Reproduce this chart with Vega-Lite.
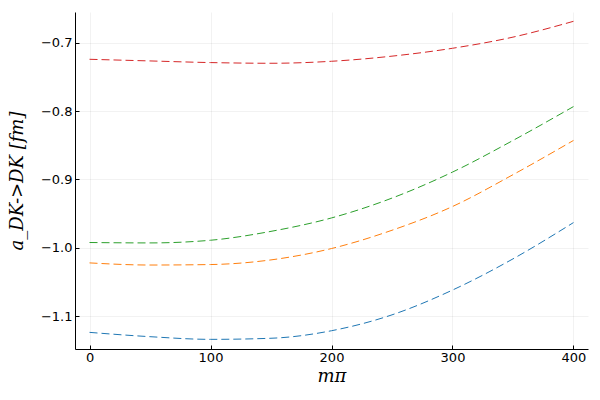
{
  "$schema": "https://vega.github.io/schema/vega-lite/v6.json",
  "autosize": "none",
  "width": 513,
  "height": 337,
  "padding": {"left": 75, "top": 12, "right": 12, "bottom": 51},
  "background": "white",
  "config": {"view": {"stroke": null}},
  "data": {"values": [
    {"m": 0, "a": -0.7244, "s": "4"},
    {"m": 50, "a": -0.7268, "s": "4"},
    {"m": 100, "a": -0.7292, "s": "4"},
    {"m": 150, "a": -0.7302, "s": "4"},
    {"m": 200, "a": -0.7273, "s": "4"},
    {"m": 250, "a": -0.7198, "s": "4"},
    {"m": 300, "a": -0.7083, "s": "4"},
    {"m": 350, "a": -0.6920, "s": "4"},
    {"m": 400, "a": -0.6689, "s": "4"},
    {"m": 0, "a": -0.9921, "s": "3"},
    {"m": 50, "a": -0.9927, "s": "3"},
    {"m": 100, "a": -0.9888, "s": "3"},
    {"m": 150, "a": -0.9758, "s": "3"},
    {"m": 200, "a": -0.9562, "s": "3"},
    {"m": 250, "a": -0.9272, "s": "3"},
    {"m": 300, "a": -0.8892, "s": "3"},
    {"m": 350, "a": -0.8430, "s": "3"},
    {"m": 400, "a": -0.7935, "s": "3"},
    {"m": 0, "a": -1.0219, "s": "2"},
    {"m": 50, "a": -1.0250, "s": "2"},
    {"m": 100, "a": -1.0243, "s": "2"},
    {"m": 150, "a": -1.0175, "s": "2"},
    {"m": 200, "a": -1.0009, "s": "2"},
    {"m": 250, "a": -0.9742, "s": "2"},
    {"m": 300, "a": -0.9395, "s": "2"},
    {"m": 350, "a": -0.8930, "s": "2"},
    {"m": 400, "a": -0.8430, "s": "2"},
    {"m": 0, "a": -1.1234, "s": "1"},
    {"m": 50, "a": -1.1297, "s": "1"},
    {"m": 100, "a": -1.1336, "s": "1"},
    {"m": 150, "a": -1.1320, "s": "1"},
    {"m": 200, "a": -1.1210, "s": "1"},
    {"m": 250, "a": -1.0978, "s": "1"},
    {"m": 300, "a": -1.0616, "s": "1"},
    {"m": 350, "a": -1.0160, "s": "1"},
    {"m": 400, "a": -0.9630, "s": "1"}
  ]},
  "mark": {"type": "line", "strokeWidth": 1, "strokeDash": [8, 4], "interpolate": "monotone", "clip": true},
  "encoding": {
    "x": {
      "field": "m", "type": "quantitative",
      "scale": {"domain": [-12, 412], "nice": false, "zero": false},
      "axis": {
        "values": [0, 100, 200, 300, 400],
        "title": "mπ",
        "titleFont": "DejaVu Serif", "titleFontStyle": "italic", "titleFontWeight": "normal",
        "titleFontSize": 18, "titlePadding": 3,
        "labelFont": "DejaVu Sans", "labelFontSize": 13, "labelColor": "black", "labelPadding": 6,
        "domainColor": "black", "domainWidth": 1,
        "tickColor": "black", "tickSize": -4,
        "grid": true, "gridColor": "#000000", "gridOpacity": 0.1, "gridWidth": 0.5
      }
    },
    "y": {
      "field": "a", "type": "quantitative",
      "scale": {"domain": [-1.1477, -0.6553], "nice": false, "zero": false},
      "axis": {
        "values": [-1.1, -1.0, -0.9, -0.8, -0.7],
        "format": ".1f",
        "labelExpr": "replace(datum.label, '-', '\u2212')",
        "title": "a_DK->DK [fm]",
        "titleFont": "DejaVu Serif", "titleFontStyle": "italic", "titleFontWeight": "normal",
        "titleFontSize": 18, "titlePadding": 14,
        "labelFont": "DejaVu Sans", "labelFontSize": 13, "labelColor": "black", "labelPadding": 7,
        "domainColor": "black", "domainWidth": 1,
        "tickColor": "black", "tickSize": -4,
        "grid": true, "gridColor": "#000000", "gridOpacity": 0.1, "gridWidth": 0.5
      }
    },
    "color": {
      "field": "s", "type": "nominal",
      "scale": {"domain": ["1", "2", "3", "4"], "range": ["#1f77b4", "#ff7f0e", "#2ca02c", "#d62728"]},
      "legend": null
    }
  }
}
